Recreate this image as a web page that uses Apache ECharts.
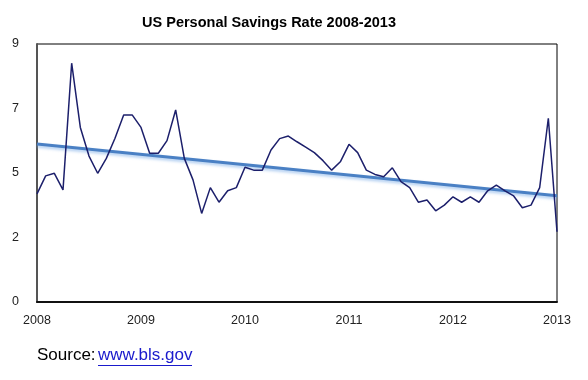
<!DOCTYPE html>
<html><head><meta charset="utf-8">
<script src="https://cdn.jsdelivr.net/npm/echarts@6/dist/echarts.min.js"></script>
<style>html,body{margin:0;padding:0;background:#fff}#c{width:588px;height:380px}</style>
</head><body><div id="c"></div>
<script>
// Monthly personal savings rate, Jan 2008 .. Jan 2013 (month index 0..60)
const savingsRate = [3.77,4.40,4.49,3.91,8.33,6.09,5.09,4.49,5.01,5.71,6.52,6.52,
  6.09,5.19,5.19,5.63,6.70,5.01,4.26,3.09,3.99,3.48,3.88,3.99,
  4.70,4.60,4.60,5.30,5.70,5.79,5.59,5.40,5.21,4.93,4.60,4.89,
  5.50,5.21,4.60,4.45,4.37,4.68,4.20,3.99,3.48,3.56,3.18,3.38,
  3.67,3.48,3.67,3.48,3.88,4.08,3.88,3.70,3.29,3.38,3.99,6.41,2.45];
const trendEnds = [[0,5.51],[60,3.71]];
const startYear = 2008;

const chart = echarts.init(document.getElementById('c'));
const font = '"Liberation Sans", Arial, Helvetica, sans-serif';
chart.setOption({
  animation:false,
  title:{text:'US Personal Savings Rate 2008-2013',left:264,textAlign:'center',top:10,
    textStyle:{fontFamily:font,fontSize:14.5,fontWeight:'bold',color:'#000'}},
  grid:{left:37,right:31,top:44,bottom:78,show:true,borderColor:'#000',borderWidth:1},
  xAxis:{type:'value',min:0,max:60,interval:12,
    axisLine:{show:true,lineStyle:{color:'#111',width:2}},
    axisTick:{show:false},splitLine:{show:false},
    axisLabel:{fontFamily:font,fontSize:12.5,color:'#222',margin:12,
      formatter:v=>String(startYear+v/12)}},
  yAxis:{type:'value',min:0,max:9,interval:2.25,
    axisLine:{show:true,lineStyle:{color:'#555',width:2}},
    axisTick:{show:false},splitLine:{show:false},
    axisLabel:{fontFamily:font,fontSize:12.5,color:'#222',margin:18,
      formatter:v=>String(Math.round(v))}},
  series:[
    {type:'line',data:trendEnds,symbol:'none',z:1,
      lineStyle:{color:'#4a80c4',width:3,shadowColor:'rgba(120,170,230,0.6)',shadowBlur:3,shadowOffsetY:2}},
    {type:'line',data:savingsRate.map((v,i)=>[i,v]),symbol:'none',z:2,
      lineStyle:{color:'#1c1f6b',width:1.5}}
  ],
  graphic:[
    {type:'text',left:37,top:347,style:{text:'Source: ',fontFamily:font,fontSize:17,fill:'#000'}},
    {type:'text',left:98,top:347,style:{text:'www.bls.gov',fontFamily:font,fontSize:17,fill:'#1a1acc'}},
    {type:'line',shape:{x1:98,y1:365.5,x2:192,y2:365.5},style:{stroke:'#1a1acc',lineWidth:1}}
  ]
});
</script></body></html>
